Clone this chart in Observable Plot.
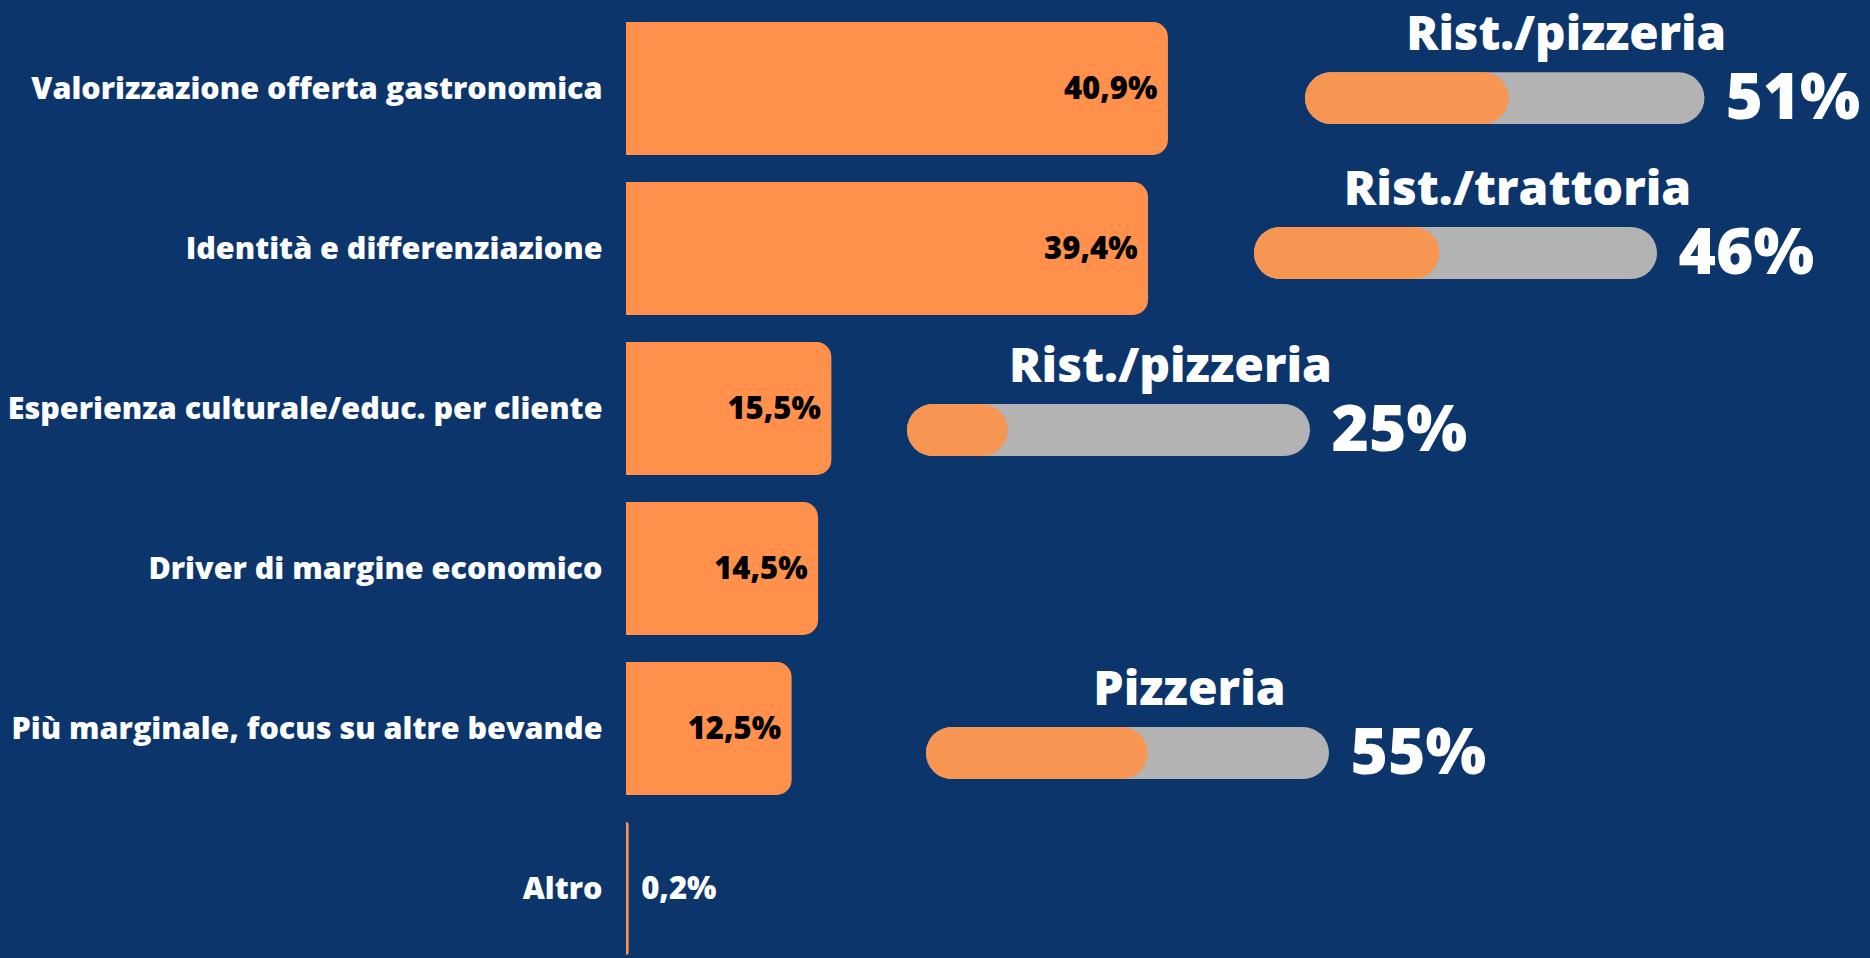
<!DOCTYPE html>
<html>
<head>
<meta charset="utf-8">
<script src="https://cdn.jsdelivr.net/npm/d3@7"></script>
<script src="https://cdn.jsdelivr.net/npm/@observablehq/plot@0.6"></script>
<style>
  html, body { margin: 0; padding: 0; background: #0c356c; overflow: hidden; }
  #wrap { position: relative; width: 1870px; height: 958px; background: #0c356c; font-family: "Open Sans", sans-serif; }
  .gauge { position: absolute; }
  svg { display: block; }
</style>
</head>
<body>
<div id="wrap"></div>
<script>
// ---- data ----
const categories = [
  "Valorizzazione offerta gastronomica",
  "Identità e differenziazione",
  "Esperienza culturale/educ. per cliente",
  "Driver di margine economico",
  "Più marginale, focus su altre bevande",
  "Altro"
];
const values = [40.9, 39.4, 15.5, 14.5, 12.5, 0.2];

const gaugeLabels = ["Rist./pizzeria", "Rist./trattoria", "Rist./pizzeria", "Pizzeria"];
const gaugeValues = [51, 46, 25, 55];

// ---- layout (pixels) ----
const W = 1870, H = 958;
const barLeft = 626, pxPerPct = 13.25;
const gaugeTrackLeft = [1305, 1254, 907, 926];
const gaugeTrackTop = [73, 227, 404, 727];
const trackW = 403, trackH = 52, titleSpace = 75;

const fmt = v => v.toFixed(1).replace(".", ",") + "%";
const data = categories.map((c, i) => ({cat: c, value: values[i]}));

const main = Plot.plot({
  width: W,
  height: H,
  marginLeft: barLeft,
  marginRight: 0,
  marginTop: 0,
  marginBottom: 0,
  style: {background: "#0c356c", color: "white", fontFamily: "'Open Sans', sans-serif", fontWeight: 800},
  x: {domain: [0, 100], range: [barLeft, barLeft + 100 * pxPerPct], axis: null},
  y: {domain: categories, range: [19, 958], paddingInner: 0.1677, paddingOuter: 0, label: null},
  marks: [
    Plot.barX(data, {y: "cat", x: "value", fill: "#ff914d", rx2: 15}),
    Plot.axisY({tickSize: 0, tickPadding: 24, fontSize: 30.5, fontWeight: 800, label: null}),
    Plot.text(data.filter(d => d.value > 5), {
      y: "cat", x: "value", text: d => fmt(d.value),
      textAnchor: "end", dx: -11, fill: "black", fontSize: 31, fontWeight: 800
    }),
    Plot.text(data.filter(d => d.value <= 5), {
      y: "cat", x: "value", text: d => fmt(d.value),
      textAnchor: "start", dx: 12, fill: "white", fontSize: 31, fontWeight: 800
    })
  ]
});
const wrap = document.getElementById("wrap");
wrap.appendChild(main);

gaugeLabels.forEach((label, i) => {
  const g = {label, value: gaugeValues[i]};
  const gw = 570, gh = titleSpace + trackH + 10;
  const svg = Plot.plot({
    width: gw,
    height: gh,
    marginLeft: 0,
    marginRight: 0,
    marginTop: titleSpace,
    marginBottom: gh - titleSpace - trackH,
    style: {background: "transparent", color: "white", fontFamily: "'Open Sans', sans-serif", fontWeight: 700, overflow: "visible"},
    x: {domain: [0, 100], range: [0, trackW], axis: null},
    marks: [
      Plot.barX([g], {x1: 0, x2: 100, fill: "#b3b3b3", rx: trackH / 2}),
      Plot.barX([g], {x1: 0, x2: "value", fill: "#f79552", rx: trackH / 2}),
      Plot.text([g], {
        x: 100, text: d => d.value + "%", textAnchor: "start", lineAnchor: "middle",
        dx: 21, fill: "white", fontSize: 64, fontWeight: 800
      }),
      Plot.text([g], {
        text: "label", frameAnchor: "top", lineAnchor: "bottom",
        dx: 263 - gw / 2, dy: -23, fill: "white", fontSize: 48, fontWeight: 800
      })
    ]
  });
  const div = document.createElement("div");
  div.className = "gauge";
  div.style.left = gaugeTrackLeft[i] + "px";
  div.style.top = (gaugeTrackTop[i] - titleSpace) + "px";
  div.appendChild(svg);
  wrap.appendChild(div);
});
</script>
</body>
</html>
